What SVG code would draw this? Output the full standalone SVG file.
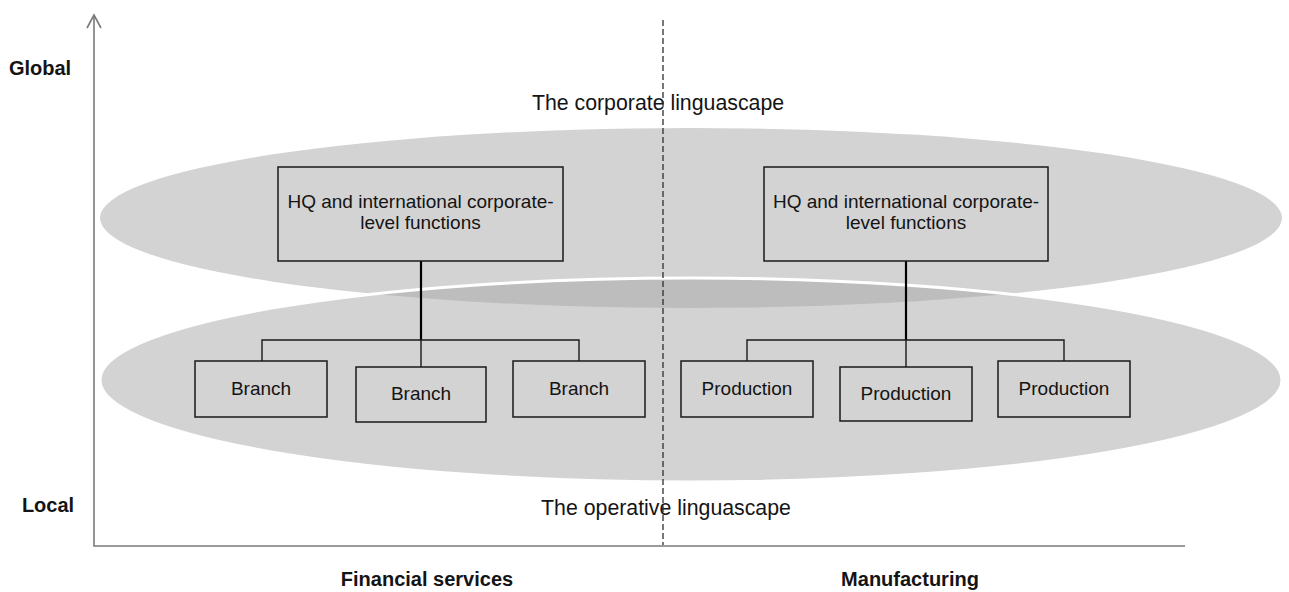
<svg xmlns="http://www.w3.org/2000/svg" width="1289" height="592" viewBox="0 0 1289 592">
<style>
.box{fill:none;stroke:#1a1a1a;stroke-width:1.5}
.t{font-family:"Liberation Sans",Arial,sans-serif;font-size:19px;fill:#141414;text-anchor:middle}
.big{font-family:"Liberation Sans",Arial,sans-serif;font-size:21.3px;fill:#141414;text-anchor:middle}
.lab{font-family:"Liberation Sans",Arial,sans-serif;font-size:20px;font-weight:bold;fill:#141414;text-anchor:middle}
.axis{stroke:#7a7a7a;stroke-width:1.6;fill:none}
.con{stroke:#1a1a1a;stroke-width:1.4;fill:none}
.stem{stroke:#000000;stroke-width:2.2;fill:none}
</style>
<rect width="1289" height="592" fill="#ffffff"/>
<g id="corporate-linguascape">
<ellipse cx="691" cy="218" rx="591" ry="90" fill="#d3d3d3"/>
</g>
<g id="operative-linguascape">
<ellipse cx="691" cy="380" rx="591" ry="102" fill="#a7a7a7" fill-opacity="0.5" stroke="#ffffff" stroke-width="3"/>
</g>
<g id="axes">
<path class="axis" d="M94 15 V546 H1185"/>
<path class="axis" d="M87 28 L94 15 L101 28"/>
</g>
<g id="connectors">
<path class="stem" d="M421 261 V340"/>
<path class="con" d="M262 361 V340 H579 V361 M421 340 V367"/>
<path class="stem" d="M906 261 V340"/>
<path class="con" d="M747 361 V340 H1064 V361 M906 340 V367"/>
</g>
<g id="hq-financial">
<rect class="box" x="278" y="167" width="285" height="94"/>
<text class="t" x="420.5" y="208">HQ and international corporate-</text>
<text class="t" x="420.5" y="229">level functions</text>
</g>
<g id="hq-manufacturing">
<rect class="box" x="764" y="167" width="284" height="94"/>
<text class="t" x="906" y="208">HQ and international corporate-</text>
<text class="t" x="906" y="229">level functions</text>
</g>
<g id="branch-1">
<rect class="box" x="195" y="361" width="132" height="56"/>
<text class="t" x="261" y="395">Branch</text>
</g>
<g id="branch-2">
<rect class="box" x="356" y="367" width="130" height="55"/>
<text class="t" x="421" y="400">Branch</text>
</g>
<g id="branch-3">
<rect class="box" x="513" y="361" width="132" height="56"/>
<text class="t" x="579" y="395">Branch</text>
</g>
<g id="production-1">
<rect class="box" x="681" y="361" width="132" height="56"/>
<text class="t" x="747" y="395">Production</text>
</g>
<g id="production-2">
<rect class="box" x="840" y="367" width="132" height="54"/>
<text class="t" x="906" y="400">Production</text>
</g>
<g id="production-3">
<rect class="box" x="998" y="361" width="132" height="56"/>
<text class="t" x="1064" y="395">Production</text>
</g>
<g id="labels">
<text class="big" x="658" y="110">The corporate linguascape</text>
<text class="big" x="666" y="515">The operative linguascape</text>
<text class="lab" x="40" y="75">Global</text>
<text class="lab" x="48" y="512">Local</text>
<text class="lab" x="427" y="586">Financial services</text>
<text class="lab" x="910" y="586">Manufacturing</text>
</g>
<g id="divider">
<line x1="663" y1="20" x2="663" y2="545" stroke="#2e2e2e" stroke-width="1.3" stroke-dasharray="6 3"/>
</g>
</svg>
